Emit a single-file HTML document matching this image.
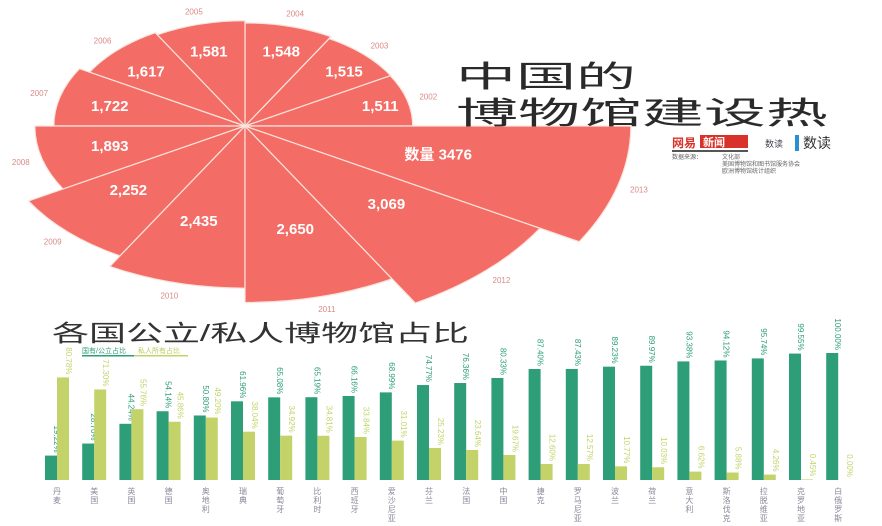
<!DOCTYPE html>
<html><head><meta charset="utf-8"><style>
html,body{margin:0;padding:0;background:#fff;}
body{width:882px;height:526px;overflow:hidden;font-family:"Liberation Sans","Noto Sans CJK SC",sans-serif;}
svg{display:block}
</style></head><body>
<svg id="chart" width="882" height="526" viewBox="0 0 882 526" xmlns="http://www.w3.org/2000/svg">
  <g id="pie"></g>
  <g font-family="'Liberation Sans','Noto Sans CJK SC',sans-serif" fill="#2a2a2a">
    <text x="0" y="0" font-size="60" transform="translate(456,87) scale(1,0.5)">中国的</text>
    <text x="0" y="0" font-size="62" transform="translate(456,124) scale(1,0.5)">博物馆建设热</text>
  </g>
  <g>
    <text x="672" y="147" font-size="12" font-weight="bold" fill="#d9322b" font-family="'Liberation Sans','Noto Sans CJK SC',sans-serif">网易</text>
    <rect x="700" y="135" width="48" height="13" fill="#d9322b"/>
    <text x="703" y="146" font-size="11" font-weight="bold" fill="#fff" font-family="'Liberation Sans','Noto Sans CJK SC',sans-serif">新闻</text>
    <rect x="672" y="150" width="76" height="2" fill="#555"/>
    <text x="765" y="147" font-size="9" fill="#445" font-family="'Liberation Sans','Noto Sans CJK SC',sans-serif">数读</text>
    <rect x="795" y="135" width="4" height="16" fill="#2b8fd0"/>
    <text x="803" y="148" font-size="14" fill="#333" font-family="'Liberation Sans','Noto Sans CJK SC',sans-serif">数读</text>
    <g font-size="6" fill="#666" font-family="'Liberation Sans','Noto Sans CJK SC',sans-serif">
      <text x="672" y="159">数据来源：</text>
      <text x="722" y="159">文化部</text>
      <text x="722" y="166">美国博物馆和图书馆服务协会</text>
      <text x="722" y="173">欧洲博物馆统计组织</text>
    </g>
  </g>
  <text x="0" y="0" font-size="37" fill="#333" font-family="'Liberation Sans','Noto Sans CJK SC',sans-serif" transform="translate(52,341) scale(1,0.62)">各国公立/私人博物馆占比</text>
  <g font-size="7" font-family="'Liberation Sans','Noto Sans CJK SC',sans-serif">
    <text x="82" y="353" fill="#2e9e78">国有/公立占比</text>
    <text x="138" y="353" fill="#b9cb5a">私人所有占比</text>
    <rect x="82" y="355" width="106" height="1.5" fill="#c3d36a"/>
    <rect x="82" y="355" width="52" height="1.5" fill="#2e9e78"/>
  </g>
  <g id="bars"></g>
</svg>
<script>
// Rose chart data
const years = ["2002","2003","2004","2005","2006","2007","2008","2009","2010","2011","2012","2013"];
const counts = [1511,1515,1548,1581,1617,1722,1893,2252,2435,2650,3069,3476];
const countLabels = ["1,511","1,515","1,548","1,581","1,617","1,722","1,893","2,252","2,435","2,650","3,069","数量 3476"];
// Bar chart data
const countries = ["丹麦","美国","英国","德国","奥地利","瑞典","葡萄牙","比利时","西班牙","爱沙尼亚","芬兰","法国","中国","捷克","罗马尼亚","波兰","荷兰","意大利","斯洛伐克","拉脱维亚","克罗地亚","白俄罗斯"];
const publicShare = [19.22,28.70,44.24,54.14,50.80,61.96,65.08,65.19,66.16,68.99,74.77,76.36,80.33,87.40,87.43,89.23,89.97,93.38,94.12,95.74,99.55,100];
const privateShare = [80.78,71.30,55.76,45.86,49.20,38.04,34.92,34.81,33.84,31.01,25.23,23.64,19.67,12.60,12.57,10.77,10.03,6.62,5.88,4.26,0.45,0];

const NS="http://www.w3.org/2000/svg";
function mk(tag,attrs,parent){const e=document.createElementNS(NS,tag);for(const k in attrs)e.setAttribute(k,attrs[k]);parent.appendChild(e);return e;}

// rose
const pie=document.getElementById('pie');
const cx=245,cy=126,kx=0.111,ky=0.6;
function pt(r,deg,k){const a=deg*Math.PI/180;return [cx+r*Math.cos(a),cy-r*Math.sin(a)*(k||ky)];}
counts.forEach((v,i)=>{
  const r=v*kx, a0=i*30, a1=(i+1)*30;
  const p0=pt(r,a0),p1=pt(r,a1);
  const d=`M${cx},${cy} L${p0[0]},${p0[1]} A${r},${r*ky} 0 0 0 ${p1[0]},${p1[1]} Z`;
  const s=mk('path',{d:d,fill:'#f36d66',stroke:'#fbe3dc','stroke-width':1.2},pie);
  
  
  const am=a0+15;
  const ld=Math.max(140,Math.min(200,r*0.66));
  const lp=pt(ld,am,0.55);
  const t=mk('text',{x:lp[0],y:lp[1]+5,'text-anchor':'middle','font-size':15,'font-weight':'bold',fill:'#fff'},pie);
  t.textContent=countLabels[i];
  
  
  const yp=pt(r+22,am);
  const yt=mk('text',{x:yp[0],y:yp[1]+3,'text-anchor':'middle','font-size':8,fill:'#d98a86'},pie);
  yt.textContent=years[i];
  
  
});

// bars
const bars=document.getElementById('bars');
const base=480,x0=45,step=37.2,bw=12,scale=1.27;
const yv=v=>base-v*scale;
countries.forEach((c,i)=>{
  const x=x0+i*step;
  [[publicShare[i],'#2e9e78',x,'public'],[privateShare[i],'#c3d36a',x+bw,'private']].forEach(([v,col,bx,kind])=>{
    const r=mk('rect',{x:bx,y:yv(v),width:bw,height:base-yv(v),fill:col},bars);
    
    
    const tx=bx+bw/2+3, ty=yv(v)-3;
    const t=mk('text',{x:tx,y:ty,'text-anchor':'end','font-size':8,fill:col,transform:`rotate(90 ${tx} ${ty})`},bars);
    t.textContent=v.toFixed(2)+'%';
    
    
  });
  const g=mk('g',{},bars);
  
  
  [...c].forEach((ch,j)=>{
    const t=mk('text',{x:x+bw,y:494+j*9,'text-anchor':'middle','font-size':8,fill:'#8a8a9a'},g);
    t.textContent=ch;
  });
});
</script>
</body></html>
